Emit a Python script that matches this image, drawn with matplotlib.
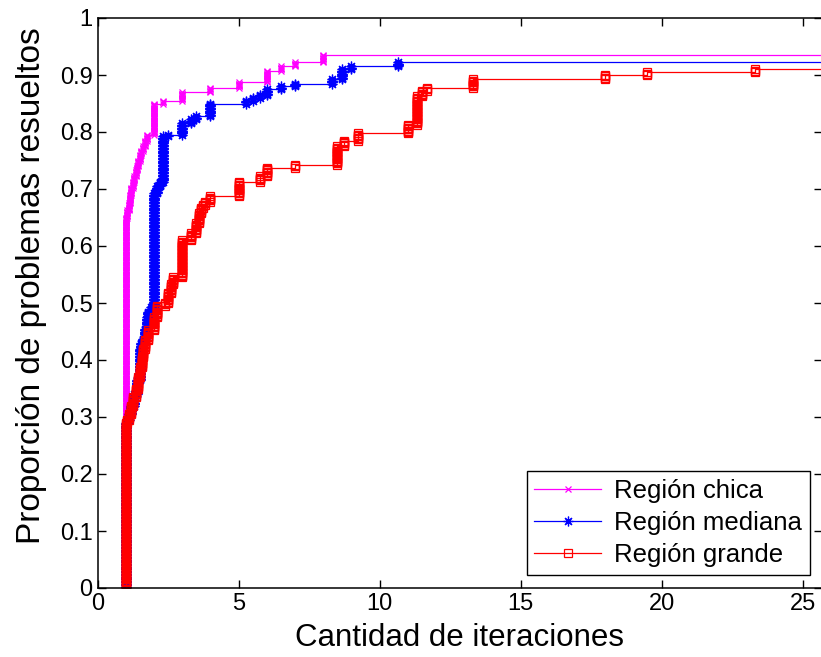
import numpy as np
import matplotlib
matplotlib.use('Agg')
import matplotlib.pyplot as plt
from matplotlib.lines import Line2D

# number of problems in the test set
n_problems = 400

# performance profile steps: ratio value and proportion solved after that ratio
chica_x = [1.0, 1.05, 1.1, 1.15, 1.2, 1.25, 1.3, 1.35, 1.4, 1.45, 1.5, 1.55, 1.6, 1.67,
           1.75, 2.0, 2.33, 3.0, 4.0, 5.0, 6.0, 6.5, 7.0, 8.0]
chica_y = [0.650, 0.662, 0.675, 0.690, 0.703, 0.712, 0.722, 0.732, 0.740, 0.750, 0.760,
           0.768, 0.775, 0.785, 0.795, 0.850, 0.855, 0.870, 0.877, 0.888, 0.908, 0.915,
           0.922, 0.935]

mediana_x = [1.0, 1.05, 1.1, 1.2, 1.3, 1.4, 1.5, 1.55, 1.6, 1.67, 1.75, 1.8, 1.9, 2.0,
             2.1, 2.2, 2.33, 2.5, 3.0, 3.33, 3.5, 4.0, 5.25, 5.5, 5.75, 6.0, 6.5, 7.0,
             8.33, 8.67, 9.0, 10.67]
mediana_y = [0.290, 0.295, 0.305, 0.320, 0.340, 0.365, 0.420, 0.430, 0.438, 0.455, 0.476,
             0.485, 0.492, 0.692, 0.705, 0.712, 0.792, 0.795, 0.815, 0.822, 0.828, 0.850,
             0.855, 0.860, 0.866, 0.875, 0.880, 0.885, 0.893, 0.910, 0.914, 0.922]

grande_x = [1.0, 1.05, 1.1, 1.2, 1.27, 1.35, 1.45, 1.5, 1.57, 1.63, 1.68, 1.8, 2.0, 2.1,
            2.4, 2.5, 2.6, 2.67, 3.0, 3.33, 3.5, 3.6, 3.67, 3.75, 3.8, 4.0, 5.0, 5.75,
            6.0, 7.0, 8.5, 8.75, 9.25, 11.0, 11.33, 11.5, 11.67, 13.33, 18.0, 19.5, 23.33]
grande_y = [0.290, 0.295, 0.305, 0.320, 0.336, 0.350, 0.371, 0.388, 0.406, 0.420, 0.435,
            0.453, 0.476, 0.496, 0.500, 0.517, 0.532, 0.545, 0.610, 0.622, 0.640, 0.658,
            0.669, 0.675, 0.681, 0.692, 0.718, 0.727, 0.742, 0.748, 0.780, 0.790, 0.802,
            0.818, 0.868, 0.877, 0.882, 0.897, 0.904, 0.910, 0.916]

labels = ['Región chica', 'Región mediana', 'Región grande']


def stairs_points(ratios, props, n):
    # one ratio per problem, then matlab-style stairs corners
    counts = np.round(np.diff(np.concatenate([[0.0], props])) * n).astype(int)
    theta = np.repeat(ratios, counts)
    y = np.arange(1, len(theta) + 1) / n
    xs = np.repeat(theta, 2)[1:]
    ys = np.repeat(y, 2)[:-1]
    return xs, ys


plt.rcParams['font.family'] = ['Liberation Sans', 'DejaVu Sans']

fig = plt.figure(figsize=(8.21, 6.57), dpi=100)
left = 97.5 / 821
bottom = 1 - 588 / 657
top = 1 - 18 / 657
ax = fig.add_axes([left, bottom, (822 - 97.5) / 821, top - bottom])

styles = [
    dict(color='#ff00ff', marker='x', markersize=5, markeredgewidth=0.9),
    dict(color='#0000ff', marker=(8, 2, 0), markersize=7, markeredgewidth=0.9),
    dict(color='#ff0000', marker='s', markersize=6, markerfacecolor='none', markeredgewidth=0.9),
]
series = [(chica_x, chica_y), (mediana_x, mediana_y), (grande_x, grande_y)]

handles = []
for (sx, sy), st, lab in zip(series, styles, labels):
    xs, ys = stairs_points(sx, sy, n_problems)
    # extend the last level past the right edge, without a marker
    xl = np.append(xs, 40.0)
    yl = np.append(ys, ys[-1])
    ax.plot(xl, yl, linewidth=0.9, markevery=list(range(len(xs))), **st)
    handles.append(Line2D([], [], linewidth=0.9, label=lab, **st))

ax.set_xlim(0, (822 - 97.5) / 28.2)
ax.set_ylim(0, 1)
ax.set_xticks([0, 5, 10, 15, 20, 25])
ax.set_yticks(np.arange(0, 1.01, 0.1))
ax.set_yticklabels(['0', '0.1', '0.2', '0.3', '0.4', '0.5', '0.6', '0.7', '0.8', '0.9', '1'])
ax.tick_params(direction='in', length=6, width=1, top=True, right=True, labelsize=17)
for sp in ax.spines.values():
    sp.set_linewidth(1.1)

ax.set_xlabel('Cantidad de iteraciones', fontsize=22.5, labelpad=6)
ax.set_ylabel('Proporción de problemas resueltos', fontsize=24)
ax.yaxis.set_label_coords(-0.07, 0.53)

leg = ax.legend(handles=handles, loc='lower right', bbox_to_anchor=(0.983, 0.023),
                borderaxespad=0, fontsize=18.5, numpoints=1, handlelength=2.6,
                fancybox=False, framealpha=1, edgecolor='black', labelspacing=0.32,
                handletextpad=0.5, borderpad=0.3)
leg.get_frame().set_linewidth(1.0)

fig.savefig('out.png', dpi=100)
